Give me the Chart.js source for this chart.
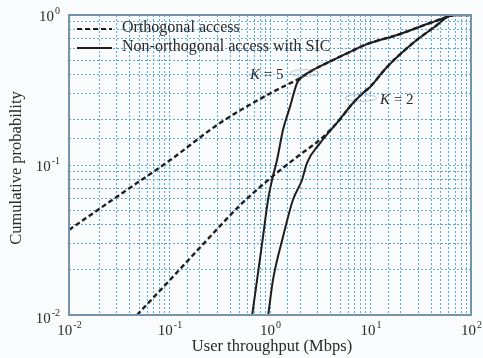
<!DOCTYPE html>
<html>
<head>
<meta charset="utf-8">
<script src="https://cdn.jsdelivr.net/npm/chart.js@4"></script>
<style>
  html, body { margin: 0; padding: 0; background: #fbfcfd; }
  #wrap { width: 483px; height: 358px; position: relative; }
</style>
</head>
<body>
<div id="wrap"><canvas id="cdfChart" width="483" height="358"></canvas></div>
<script>
// axis decades (tick labels drawn as 10^n)
const xDecades = [-2, -1, 0, 1, 2];
const yDecades = [-2, -1, 0];

// Orthogonal access, K = 5 (dashed)
const orthK5X = [0.01, 0.0316, 0.1, 0.316, 1.0, 2.08, 2.68, 4.24, 6.25, 9.23, 18.4, 39.1, 57.7, 69, 100];
const orthK5Y = [0.0369, 0.063, 0.107, 0.19, 0.30, 0.386, 0.430, 0.501, 0.567, 0.64, 0.736, 0.884, 0.97, 1.0, 1.0];

// Orthogonal access, K = 2 (dashed)
const orthK2X = [0.0475, 0.1, 0.316, 0.5, 1.0, 2.0, 3.16, 4.64, 6.70, 8.41, 9.89, 14.6, 26.5, 45.9, 57.7, 69, 100];
const orthK2Y = [0.01, 0.017, 0.039, 0.0537, 0.0813, 0.1175, 0.148, 0.191, 0.259, 0.302, 0.331, 0.45, 0.651, 0.858, 0.97, 1.0, 1.0];

// Non-orthogonal access with SIC, K = 5 (solid)
const noma5X = [0.665, 0.743, 0.851, 0.955, 1.047, 1.175, 1.346, 1.58, 1.86, 2.08, 2.68, 4.24, 6.25, 9.23, 18.4, 39.1, 57.7, 69, 100];
const noma5Y = [0.01, 0.0171, 0.0331, 0.0584, 0.0794, 0.108, 0.171, 0.244, 0.352, 0.386, 0.430, 0.501, 0.567, 0.64, 0.736, 0.884, 0.97, 1.0, 1.0];

// Non-orthogonal access with SIC, K = 2 (solid)
const noma2X = [0.96, 1.07, 1.346, 1.69, 2.08, 2.33, 3.15, 4.64, 6.70, 8.41, 9.89, 14.6, 26.5, 45.9, 57.7, 69, 100];
const noma2Y = [0.01, 0.0171, 0.0331, 0.0584, 0.0794, 0.103, 0.140, 0.191, 0.259, 0.302, 0.331, 0.45, 0.651, 0.858, 0.97, 1.0, 1.0];

const FONT = '"Liberation Serif", "DejaVu Serif", serif';
const INK = '#1e1e1e';
const GRID = '#5fa7d6';

function pts(xs, ys) {
    return xs.map((x, i) => ({ x: x, y: ys[i] }));
}

function line(label, xs, ys, dashed) {
    return {
        label: label,
        data: pts(xs, ys),
        borderColor: INK,
        borderWidth: dashed ? 2.4 : 2,
        borderDash: dashed ? [5, 3] : [],
        pointRadius: 0,
        cubicInterpolationMode: 'monotone',
        fill: false
    };
}

function sup(ctx, base, exp, x, y, align) {
    ctx.font = '15px ' + FONT;
    const bw = ctx.measureText(base).width;
    ctx.font = '10px ' + FONT;
    const ew = ctx.measureText(exp).width;
    let left = x;
    if (align === 'center') left = x - (bw + ew) / 2;
    if (align === 'right') left = x - bw - ew;
    ctx.textAlign = 'left';
    ctx.textBaseline = 'middle';
    ctx.font = '15px ' + FONT;
    ctx.fillText(base, left, y);
    ctx.font = '10px ' + FONT;
    ctx.fillText(exp, left + bw + 1, y - 6);
}

const decor = {
    id: 'decor',
    afterDraw(chart) {
        const ctx = chart.ctx;
        const xs = chart.scales.x;
        const ys = chart.scales.y;
        const a = chart.chartArea;
        ctx.save();
        ctx.fillStyle = '#2a2a2a';

        // frame
        ctx.strokeStyle = '#7394ab';
        ctx.lineWidth = 2;
        ctx.setLineDash([]);
        ctx.strokeRect(a.left, a.top, a.right - a.left, a.bottom - a.top);

        // tick labels
        xDecades.forEach(d => {
            sup(ctx, '10', d < 0 ? '-' + (-d) : String(d), xs.getPixelForValue(Math.pow(10, d)), a.bottom + 16, 'center');
        });
        yDecades.forEach(d => {
            sup(ctx, '10', d < 0 ? '-' + (-d) : String(d), a.left - 10, ys.getPixelForValue(Math.pow(10, d)) + (d === -2 ? 4 : 2), 'right');
        });

        // axis titles
        ctx.font = '16.5px ' + FONT;
        ctx.textAlign = 'center';
        ctx.textBaseline = 'middle';
        ctx.fillText('User throughput (Mbps)', (a.left + a.right) / 2 + 2, 347);
        ctx.save();
        ctx.translate(17, 168);
        ctx.rotate(-Math.PI / 2);
        ctx.fillText('Cumulative probability', 0, 0);
        ctx.restore();

        // legend
        ctx.strokeStyle = INK;
        ctx.lineWidth = 2;
        ctx.setLineDash([5, 3]);
        ctx.beginPath();
        ctx.moveTo(a.left + 8, 29);
        ctx.lineTo(a.left + 43, 29);
        ctx.stroke();
        ctx.setLineDash([]);
        ctx.beginPath();
        ctx.moveTo(a.left + 8, 48);
        ctx.lineTo(a.left + 43, 48);
        ctx.stroke();
        ctx.font = '16px ' + FONT;
        ctx.textAlign = 'left';
        ctx.fillText('Orthogonal access', a.left + 53, 28);
        ctx.fillText('Non-orthogonal access with SIC', a.left + 53, 47);

        // K labels with small ovals pointing at the curves
        ctx.font = 'italic 15px ' + FONT;
        ctx.fillText('K', 250, 75);
        ctx.font = '15px ' + FONT;
        ctx.fillText(' = 5', 260, 75);
        ctx.font = 'italic 15px ' + FONT;
        ctx.fillText('K', 380, 100);
        ctx.font = '15px ' + FONT;
        ctx.fillText(' = 2', 390, 100);

        ctx.strokeStyle = 'rgba(120,140,160,0.45)';
        ctx.lineWidth = 1;
        ctx.beginPath();
        ctx.ellipse(xs.getPixelForValue(2.2), ys.getPixelForValue(0.41), 14, 3.5, 0, 0, Math.PI * 2);
        ctx.stroke();
        ctx.beginPath();
        ctx.ellipse(xs.getPixelForValue(8.0), ys.getPixelForValue(0.28), 16, 3.5, 0, 0, Math.PI * 2);
        ctx.stroke();
        ctx.restore();
    }
};

const chart = new Chart(document.getElementById('cdfChart'), {
    type: 'line',
    data: {
        datasets: [
            line('Orthogonal access', orthK5X, orthK5Y, true),
            line('Orthogonal access K=2', orthK2X, orthK2Y, true),
            line('Non-orthogonal access with SIC', noma5X, noma5Y, false),
            line('Non-orthogonal access with SIC K=2', noma2X, noma2Y, false)
        ]
    },
    options: {
        responsive: false,
        animation: false,
        layout: { padding: { top: 15, right: 12, left: 0, bottom: 0 } },
        plugins: {
            legend: { display: false },
            tooltip: { enabled: false }
        },
        scales: {
            x: {
                type: 'logarithmic',
                min: 0.01,
                max: 100,
                border: { display: false, dash: [2, 2] },
                grid: { color: GRID, lineWidth: 1, drawTicks: false },
                ticks: { autoSkip: false, callback: () => '', maxRotation: 0 },
                afterFit: s => { s.height = 43; }
            },
            y: {
                type: 'logarithmic',
                min: 0.01,
                max: 1,
                border: { display: false, dash: [2, 2] },
                grid: { color: GRID, lineWidth: 1, drawTicks: false },
                ticks: { autoSkip: false, callback: () => '' },
                afterFit: s => { s.width = 69; }
            }
        }
    },
    plugins: [decor]
});
</script>
</body>
</html>
